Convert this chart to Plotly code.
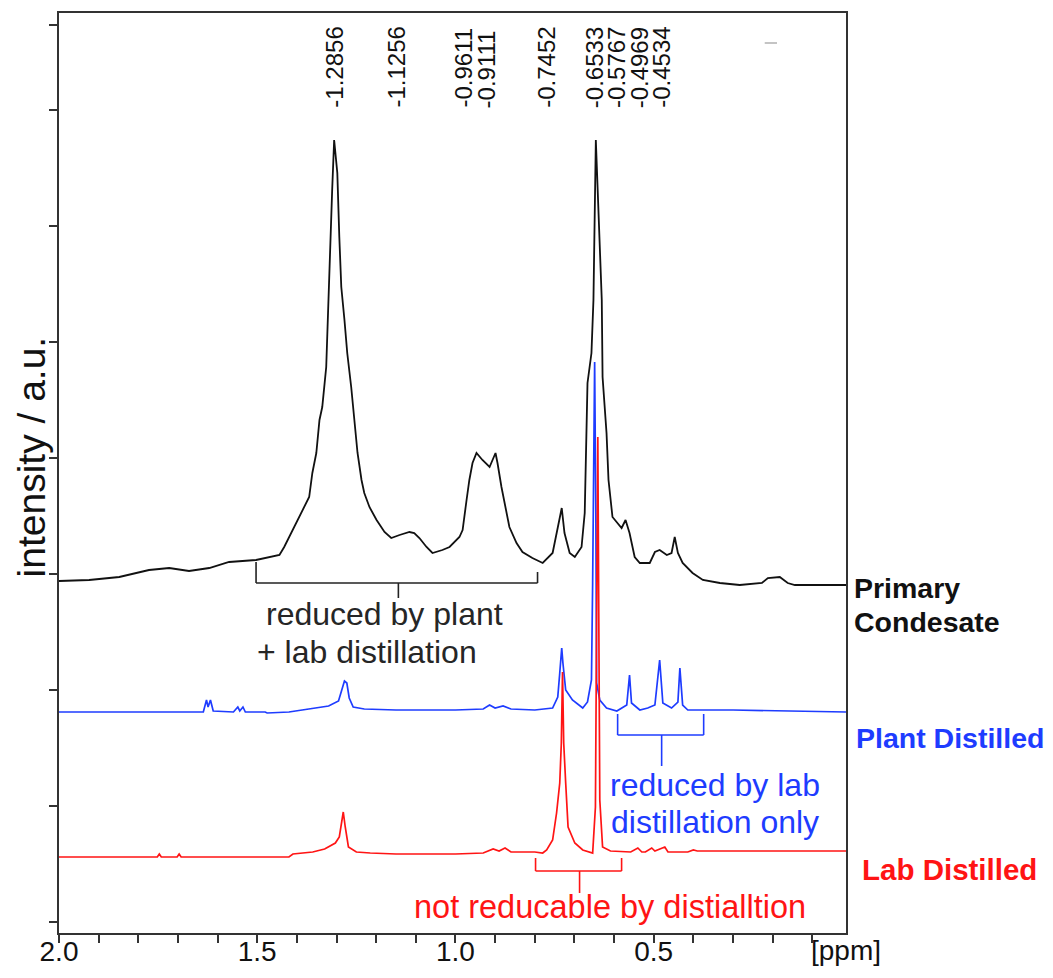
import plotly.graph_objects as go

# ---------------- data (ppm, intensity a.u. relative to each trace baseline) ----------------
primary_ppm = [2.000, 1.924, 1.848, 1.773, 1.722, 1.672, 1.621, 1.571, 1.503, 1.444, 1.432, 1.419,
               1.402, 1.389, 1.369, 1.361, 1.351, 1.343, 1.336, 1.326, 1.323, 1.318, 1.313, 1.311,
               1.306, 1.298, 1.293, 1.288, 1.280, 1.273, 1.263, 1.255, 1.247, 1.237, 1.230, 1.217,
               1.199, 1.179, 1.162, 1.141, 1.116, 1.104, 1.091, 1.073, 1.058, 1.033, 1.015, 0.990,
               0.982, 0.972, 0.965, 0.957, 0.947, 0.932, 0.914, 0.899, 0.894, 0.884, 0.876, 0.864,
               0.846, 0.831, 0.806, 0.780, 0.755, 0.742, 0.732, 0.725, 0.712, 0.699, 0.682, 0.674,
               0.667, 0.657, 0.652, 0.646, 0.631, 0.629, 0.619, 0.614, 0.604, 0.581, 0.571, 0.561,
               0.548, 0.535, 0.510, 0.497, 0.485, 0.467, 0.455, 0.447, 0.439, 0.427, 0.402, 0.376,
               0.333, 0.283, 0.227, 0.212, 0.182, 0.162, 0.144, 0.015]
primary_int = [0, 1, 4, 11, 13, 10, 13, 19, 21, 26, 34, 44,
               58, 68, 84, 108, 128, 161, 174, 214, 254, 314, 364, 391,
               441, 408, 344, 294, 261, 228, 194, 161, 128, 101, 88, 74,
               61, 49, 43, 46, 49, 48, 43, 34, 28, 31, 34, 44,
               51, 81, 101, 118, 128, 121, 114, 128, 118, 94, 78, 54,
               38, 29, 23, 18, 28, 54, 73, 48, 28, 24, 34, 68,
               198, 228, 281, 441, 281, 204, 148, 101, 64, 53, 61, 48,
               24, 18, 18, 29, 31, 26, 28, 44, 28, 18, 8, 1,
               -2, -4, -2, 3, 4, -2, -4, -4]

plant_ppm = [2.000, 1.700, 1.636, 1.628, 1.624, 1.618, 1.611, 1.560, 1.549, 1.544, 1.536, 1.530,
             1.480, 1.475, 1.420, 1.370, 1.320, 1.295, 1.285, 1.280, 1.274, 1.268, 1.258, 1.230,
             1.150, 1.000, 0.930, 0.914, 0.900, 0.880, 0.860, 0.800, 0.755, 0.742, 0.737, 0.732,
             0.729, 0.722, 0.705, 0.679, 0.667, 0.657, 0.654, 0.649, 0.646, 0.644, 0.636, 0.619,
             0.593, 0.568, 0.561, 0.556, 0.535, 0.515, 0.497, 0.485, 0.477, 0.455, 0.439, 0.434,
             0.427, 0.414, 0.300, 0.015]
plant_int = [0, 0, 0, 12, 5, 12, 1, 0, 5, 1, 5, 0,
             0, -1, 0, 3, 6, 11, 24, 31, 29, 14, 5, 3,
             2, 2, 3, 7, 4, 6, 3, 2, 4, 15, 39, 64,
             49, 22, 12, 4, 10, 32, 129, 350, 199, 29, 12, 4,
             1, 7, 37, 9, 2, 4, 7, 52, 9, 4, 10, 44,
             7, 2, 2, 0]

lab_ppm = [2.000, 1.752, 1.747, 1.742, 1.702, 1.697, 1.692, 1.420, 1.410, 1.360, 1.330, 1.303,
           1.293, 1.286, 1.283, 1.278, 1.270, 1.250, 1.215, 1.150, 1.000, 0.930, 0.905, 0.890,
           0.875, 0.860, 0.800, 0.780, 0.770, 0.755, 0.745, 0.737, 0.733, 0.730, 0.727, 0.722,
           0.716, 0.699, 0.679, 0.654, 0.647, 0.641, 0.636, 0.629, 0.609, 0.558, 0.540, 0.530,
           0.521, 0.505, 0.497, 0.472, 0.464, 0.414, 0.400, 0.390, 0.015]
lab_int = [0, 0, 3, 0, 0, 3, 0, 0, 3, 5, 8, 14,
           20, 40, 45, 30, 10, 5, 4, 3, 3, 4, 8, 6,
           9, 5, 5, 4, 7, 17, 44, 74, 114, 185, 114, 74,
           30, 14, 7, 4, 50, 420, 57, 10, 6, 5, 9, 5,
           5, 9, 6, 10, 5, 5, 7, 6, 6]

# vertical stacking offsets of the three spectra (a.u.)
offset_primary = 352
offset_plant = 221
offset_lab = 76

# peak labels
peak_labels = ["-1.2856", "-1.1256", "-0.9611", "-0.9111", "-0.7452",
               "-0.6533", "-0.5767", "-0.4969", "-0.4534"]
peak_label_ppm = [1.306, 1.150, 0.982, 0.922, 0.771, 0.649, 0.594, 0.535, 0.481]

y_tickvals = [11, 127, 243, 359, 475, 591, 707, 823, 908]

BLACK = "#111111"
BLUE = "#1e3cff"
RED = "#ff1414"
FONT = "Liberation Sans, Arial, sans-serif"

fig = go.Figure()
fig.add_trace(go.Scatter(x=primary_ppm, y=[v + offset_primary for v in primary_int],
                         mode="lines", line=dict(color=BLACK, width=1.8), showlegend=False))
fig.add_trace(go.Scatter(x=plant_ppm, y=[v + offset_plant for v in plant_int],
                         mode="lines", line=dict(color=BLUE, width=1.7), showlegend=False))
fig.add_trace(go.Scatter(x=lab_ppm, y=[v + offset_lab for v in lab_int],
                         mode="lines", line=dict(color=RED, width=1.7), showlegend=False))

# peak labels
for t, p in zip(peak_labels, peak_label_ppm):
    fig.add_annotation(x=p, y=823, text=t, textangle=-90, showarrow=False,
                       xanchor="center", yanchor="bottom",
                       font=dict(family=FONT, size=24, color="#111111"))

# brackets
def bracket(x0, x1, y, yl, yr, xs, ys, color):
    fig.add_shape(type="line", x0=x0, x1=x1, y0=y, y1=y, line=dict(color=color, width=1.6))
    fig.add_shape(type="line", x0=x0, x1=x0, y0=y, y1=yl, line=dict(color=color, width=1.6))
    fig.add_shape(type="line", x0=x1, x1=x1, y0=y, y1=yr, line=dict(color=color, width=1.6))
    fig.add_shape(type="line", x0=xs, x1=xs, y0=y, y1=ys, line=dict(color=color, width=1.6))

bracket(1.503, 0.793, 350, 371, 361, 1.144, 335, "#222222")
bracket(0.591, 0.374, 198, 219, 219, 0.480, 167, BLUE)
bracket(0.798, 0.581, 62, 75, 75, 0.687, 40, RED)

# small grey mark near the top right of the frame
fig.add_shape(type="line", x0=0.220, x1=0.189, y0=890, y1=890,
              line=dict(color="#b0b0b0", width=1.5))

fig.add_annotation(x=1.179, y=319, text="reduced by plant", showarrow=False,
                   font=dict(family=FONT, size=32, color="#262626"))
fig.add_annotation(x=1.222, y=281, text="+ lab distillation", showarrow=False,
                   font=dict(family=FONT, size=32, color="#262626"))
fig.add_annotation(x=0.346, y=148, text="reduced by lab", showarrow=False,
                   font=dict(family=FONT, size=32, color=BLUE))
fig.add_annotation(x=0.346, y=111, text="distillation only", showarrow=False,
                   font=dict(family=FONT, size=32, color=BLUE))
fig.add_annotation(x=0.611, y=26, text="not reducable by distialltion", showarrow=False,
                   font=dict(family=FONT, size=32.5, color=RED))

# series labels at right
fig.add_annotation(xref="paper", yref="paper", x=1.0076, y=0.3750, text="<b>Primary</b>",
                   showarrow=False, xanchor="left", yanchor="middle",
                   font=dict(family=FONT, size=28.5, color="#111111"))
fig.add_annotation(xref="paper", yref="paper", x=1.0076, y=0.3385, text="<b>Condesate</b>",
                   showarrow=False, xanchor="left", yanchor="middle",
                   font=dict(family=FONT, size=28.5, color="#111111"))
fig.add_annotation(xref="paper", yref="paper", x=1.0105, y=0.212, text="<b>Plant Distilled</b>",
                   showarrow=False, xanchor="left", yanchor="middle",
                   font=dict(family=FONT, size=28.5, color=BLUE))
fig.add_annotation(xref="paper", yref="paper", x=1.0178, y=0.0685, text="<b>Lab Distilled</b>",
                   showarrow=False, xanchor="left", yanchor="middle",
                   font=dict(family=FONT, size=29.5, color=RED))

# axis titles
fig.add_annotation(xref="paper", yref="paper", x=-0.0356, y=0.518, text="intensity / a.u.",
                   textangle=-90, showarrow=False, xanchor="center", yanchor="middle",
                   font=dict(family=FONT, size=39, color="#111111"))
fig.add_annotation(xref="paper", yref="paper", x=1.0, y=-0.019, text="[ppm]",
                   showarrow=False, xanchor="center", yanchor="middle",
                   font=dict(family=FONT, size=28, color="#111111"))

fig.update_xaxes(range=[2.0, 0.015], tickmode="linear", tick0=0, dtick=0.5, tickformat=".1f",
                 ticks="outside", ticklen=8, tickwidth=1.5, tickcolor="#333333",
                 minor=dict(dtick=0.1, tick0=0, ticks="outside", ticklen=8, tickwidth=1.5,
                            tickcolor="#333333"),
                 showline=True, linecolor="#333333", linewidth=2, mirror=True,
                 showgrid=False, zeroline=False, automargin=False, ticklabelstandoff=-16,
                 tickfont=dict(family=FONT, size=28, color="#111111"))
fig.update_yaxes(range=[0, 920], tickmode="array", tickvals=y_tickvals, showticklabels=False,
                 ticks="outside", ticklen=8, tickwidth=1.5, tickcolor="#333333",
                 showline=True, linecolor="#333333", linewidth=2, mirror=True,
                 showgrid=False, zeroline=False, automargin=False)

# page body has an 8px default margin, so the figure is sized/offset to land on the window
fig.update_layout(width=1045, height=970, plot_bgcolor="white", paper_bgcolor="white",
                  margin=dict(l=51, r=207, t=5, b=45), showlegend=False)

fig.write_html("out.html")
